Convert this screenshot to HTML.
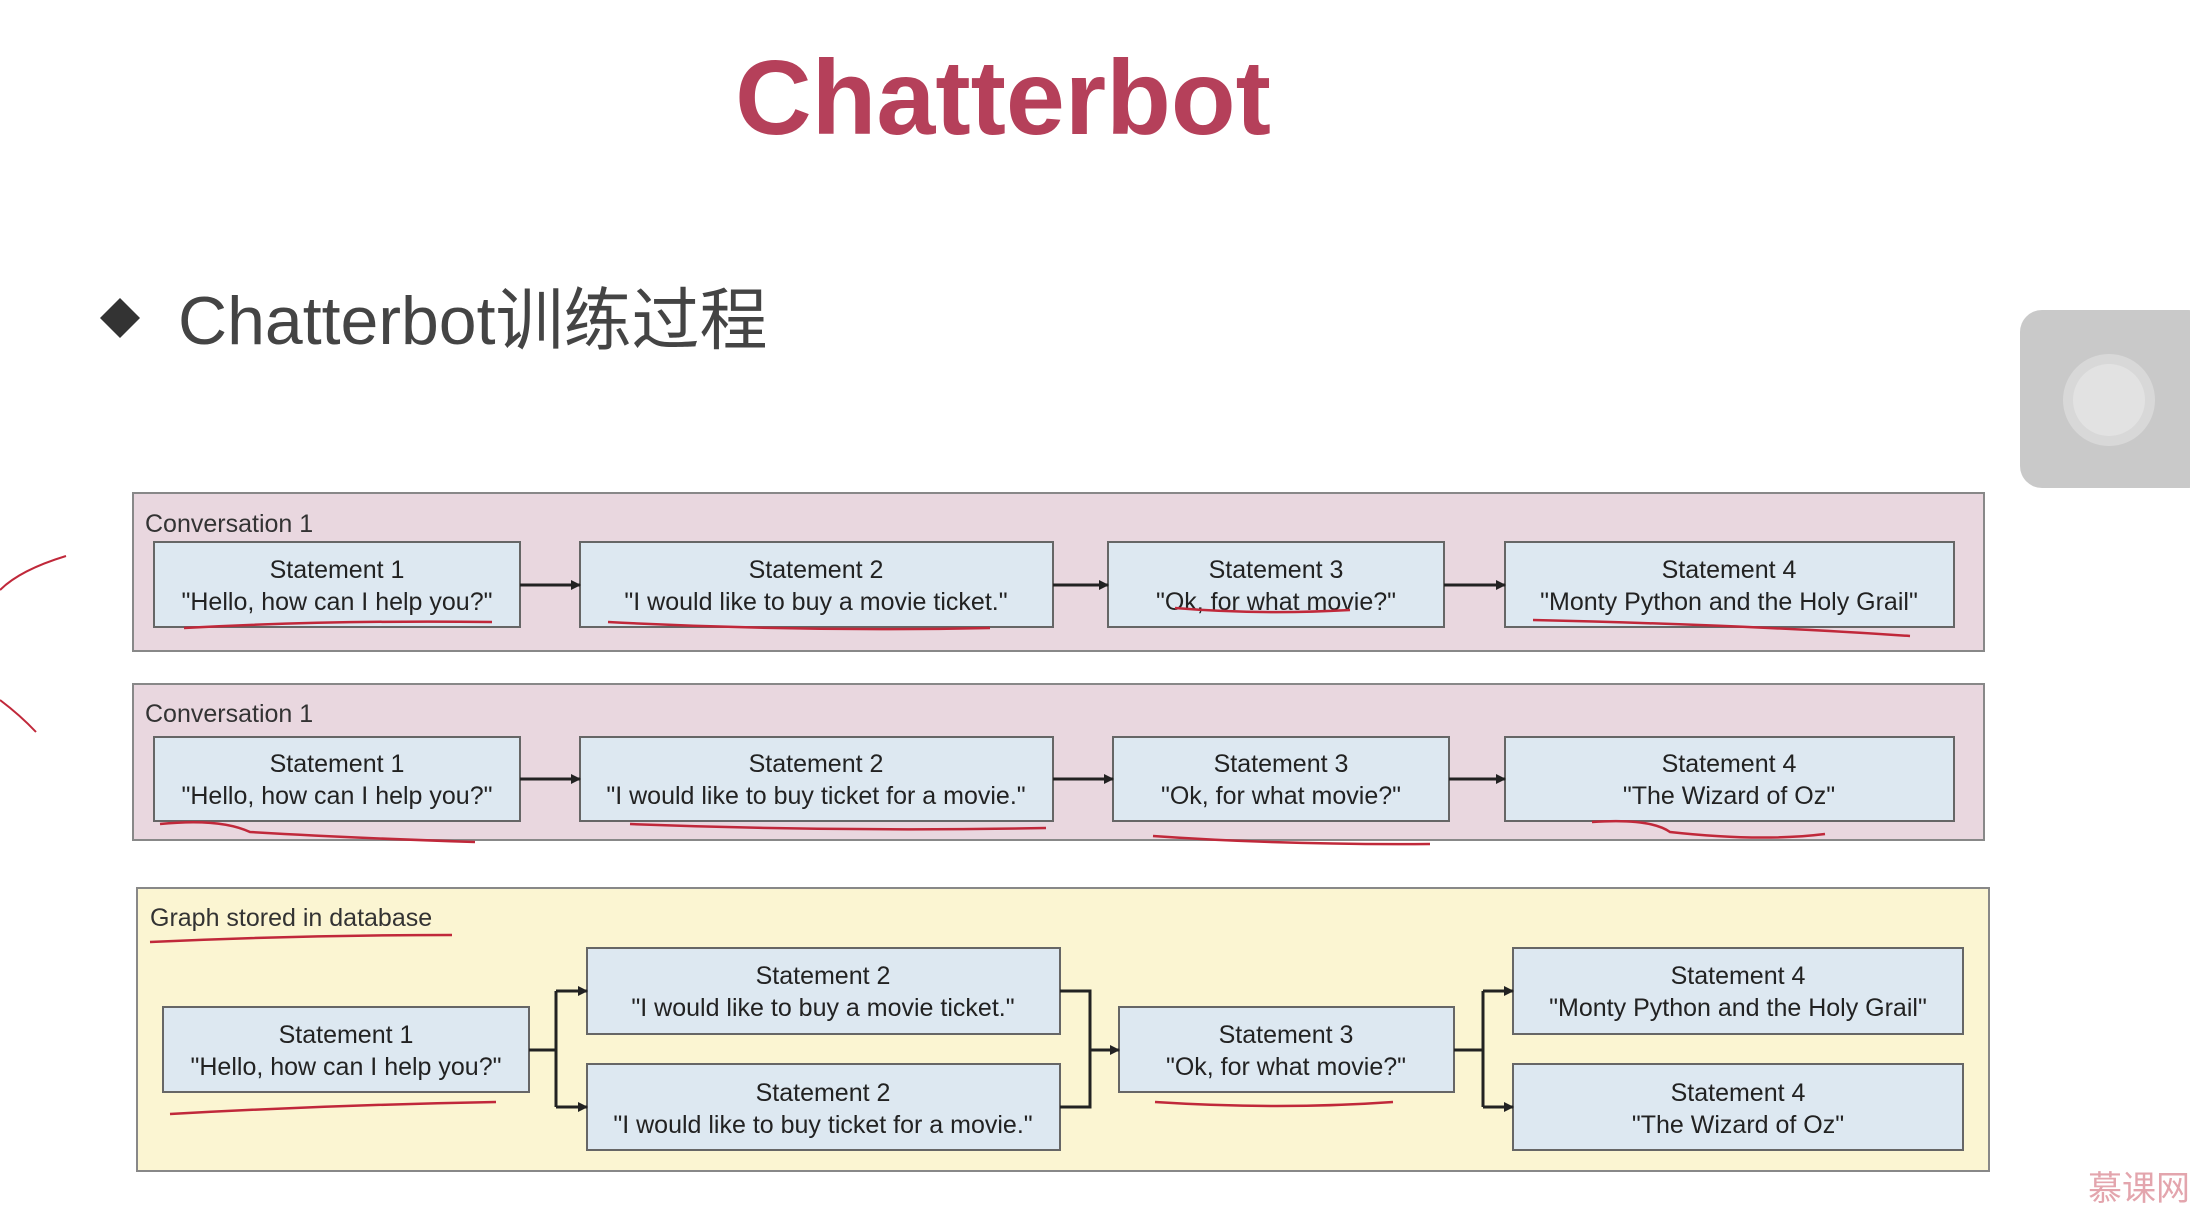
<!DOCTYPE html>
<html><head><meta charset="utf-8"><style>
html,body{margin:0;padding:0;background:#fff;}
svg{display:block}
text{font-family:"Liberation Sans","Noto Sans CJK SC",sans-serif;}
</style></head><body>
<svg width="2190" height="1210" viewBox="0 0 2190 1210" xmlns="http://www.w3.org/2000/svg">
<defs><marker id="a" markerWidth="10" markerHeight="10" refX="9" refY="5" orient="auto" markerUnits="userSpaceOnUse"><path d="M0,0 L10,5 L0,10 z" fill="#222"/></marker></defs>
<rect width="2190" height="1210" fill="#fff"/>
<text x="1003" y="134" text-anchor="middle" font-size="106" font-weight="bold" fill="#b5405a">Chatterbot</text>
<path d="M120,298 L140,318 L120,338 L100,318 z" fill="#333"/>
<text x="178" y="344" font-size="68" fill="#444">Chatterbot训练过程</text>
<rect x="2020" y="310" width="190" height="178" rx="22" fill="#c9c9c9"/>
<circle cx="2109" cy="400" r="46" fill="#d8d8d8"/><circle cx="2109" cy="400" r="36" fill="#e2e2e2"/>
<path d="M66,556 Q20,570 0,590" stroke="#c0283a" stroke-width="2" fill="none"/>
<path d="M0,700 Q20,715 36,732" stroke="#c0283a" stroke-width="2" fill="none"/>
<g font-size="25" fill="#222" text-anchor="middle">
<rect x="133" y="493" width="1851" height="158" fill="#e9d7df" stroke="#888" stroke-width="2"/>
<text x="145" y="532" text-anchor="start" fill="#333">Conversation 1</text>
<g fill="#dde8f1" stroke="#666" stroke-width="2">
<rect x="154" y="542" width="366" height="85"/><rect x="580" y="542" width="473" height="85"/>
<rect x="1108" y="542" width="336" height="85"/><rect x="1505" y="542" width="449" height="85"/>
</g>
<g stroke="#222" stroke-width="3" marker-end="url(#a)">
<line x1="520" y1="585" x2="580" y2="585"/><line x1="1053" y1="585" x2="1108" y2="585"/><line x1="1444" y1="585" x2="1505" y2="585"/>
</g>
<text x="337" y="578">Statement 1</text><text x="337" y="610">"Hello, how can I help you?"</text>
<text x="816" y="578">Statement 2</text><text x="816" y="610">"I would like to buy a movie ticket."</text>
<text x="1276" y="578">Statement 3</text><text x="1276" y="610">"Ok, for what movie?"</text>
<text x="1729" y="578">Statement 4</text><text x="1729" y="610">"Monty Python and the Holy Grail"</text>
<rect x="133" y="684" width="1851" height="156" fill="#e9d7df" stroke="#888" stroke-width="2"/>
<text x="145" y="722" text-anchor="start" fill="#333">Conversation 1</text>
<g fill="#dde8f1" stroke="#666" stroke-width="2">
<rect x="154" y="737" width="366" height="84"/><rect x="580" y="737" width="473" height="84"/>
<rect x="1113" y="737" width="336" height="84"/><rect x="1505" y="737" width="449" height="84"/>
</g>
<g stroke="#222" stroke-width="3" marker-end="url(#a)">
<line x1="520" y1="779" x2="580" y2="779"/><line x1="1053" y1="779" x2="1113" y2="779"/><line x1="1449" y1="779" x2="1505" y2="779"/>
</g>
<text x="337" y="772">Statement 1</text><text x="337" y="804">"Hello, how can I help you?"</text>
<text x="816" y="772">Statement 2</text><text x="816" y="804">"I would like to buy ticket for a movie."</text>
<text x="1281" y="772">Statement 3</text><text x="1281" y="804">"Ok, for what movie?"</text>
<text x="1729" y="772">Statement 4</text><text x="1729" y="804">"The Wizard of Oz"</text>
<rect x="137" y="888" width="1852" height="283" fill="#fbf5d2" stroke="#888" stroke-width="2"/>
<text x="150" y="926" text-anchor="start" fill="#333">Graph stored in database</text>
<g fill="#dde8f1" stroke="#666" stroke-width="2">
<rect x="163" y="1007" width="366" height="85"/>
<rect x="587" y="948" width="473" height="86"/><rect x="587" y="1064" width="473" height="86"/>
<rect x="1119" y="1007" width="335" height="85"/>
<rect x="1513" y="948" width="450" height="86"/><rect x="1513" y="1064" width="450" height="86"/>
</g>
<g stroke="#222" stroke-width="3" fill="none">
<path d="M529,1050 H556 M556,991 V1107"/>
<path d="M1060,991 H1090 V1107 H1060"/>
<path d="M1454,1050 H1483 M1483,991 V1107"/>
</g>
<g stroke="#222" stroke-width="3" marker-end="url(#a)">
<line x1="556" y1="991" x2="587" y2="991"/><line x1="556" y1="1107" x2="587" y2="1107"/>
<line x1="1090" y1="1050" x2="1119" y2="1050"/>
<line x1="1483" y1="991" x2="1513" y2="991"/><line x1="1483" y1="1107" x2="1513" y2="1107"/>
</g>
<text x="346" y="1043">Statement 1</text><text x="346" y="1075">"Hello, how can I help you?"</text>
<text x="823" y="984">Statement 2</text><text x="823" y="1016">"I would like to buy a movie ticket."</text>
<text x="823" y="1101">Statement 2</text><text x="823" y="1133">"I would like to buy ticket for a movie."</text>
<text x="1286" y="1043">Statement 3</text><text x="1286" y="1075">"Ok, for what movie?"</text>
<text x="1738" y="984">Statement 4</text><text x="1738" y="1016">"Monty Python and the Holy Grail"</text>
<text x="1738" y="1101">Statement 4</text><text x="1738" y="1133">"The Wizard of Oz"</text>
</g>
<g stroke="#c0283a" stroke-width="2.5" fill="none">
<path d="M184,628 Q330,620 492,622"/>
<path d="M608,622 Q800,632 990,628"/>
<path d="M1175,608 Q1260,615 1350,610"/>
<path d="M1533,620 Q1750,625 1910,636"/>
<path d="M160,824 Q220,818 250,832 Q350,838 475,842"/>
<path d="M630,824 Q840,832 1046,828"/>
<path d="M1153,836 Q1280,845 1430,844"/>
<path d="M1592,822 Q1650,818 1670,832 Q1760,842 1825,834"/>
<path d="M150,942 Q300,935 452,935"/>
<path d="M170,1114 Q330,1105 496,1102"/>
<path d="M1155,1102 Q1280,1110 1393,1102"/>
</g>
<text x="2190" y="1200" text-anchor="end" font-size="34" fill="#e3a5ad">慕课网</text>
</svg>
</body></html>
